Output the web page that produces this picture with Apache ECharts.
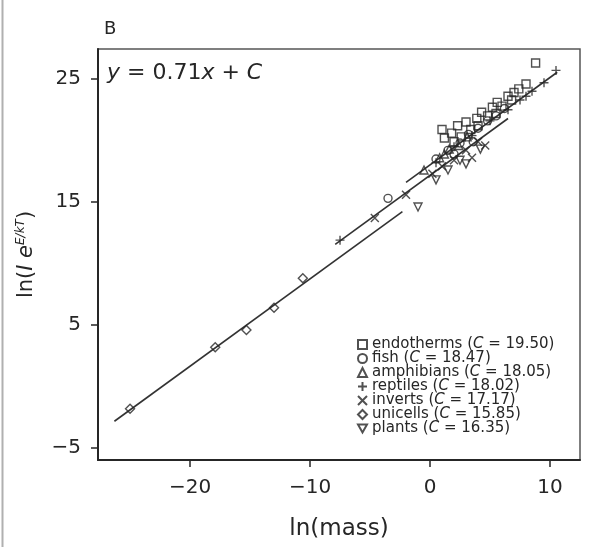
<!DOCTYPE html>
<html>
<head>
<meta charset="utf-8">
<script src="https://cdn.jsdelivr.net/npm/echarts@6/dist/echarts.min.js"></script>
<style>html,body{margin:0;padding:0;background:#fff}#c{width:597px;height:547px}</style>
</head>
<body>
<div id="c"></div>
<script>
// ---- data (ln(mass), ln(I e^(E/kT))) ----
var groupNames = ['endotherms', 'fish', 'amphibians', 'reptiles', 'inverts', 'unicells', 'plants'];
var groupC = ['19.50', '18.47', '18.05', '18.02', '17.17', '15.85', '16.35'];

var endotherms = [[1.0,20.9],[1.2,20.2],[1.8,20.6],[2.3,21.2],[2.6,20.3],[3.0,21.5],[3.4,20.9],[3.9,21.8],[4.3,22.3],[4.8,22.0],[5.2,22.7],[5.6,23.1],[6.0,22.8],[6.5,23.6],[7.0,23.9],[7.4,24.2],[8.0,24.6],[8.8,26.3],[2.0,19.9],[4.0,21.2],[5.5,22.2],[6.8,23.3]];
var fish = [[-3.5,15.3],[0.5,18.5],[1.5,19.2],[2.5,19.8],[3.2,20.5],[4.0,21.0],[4.8,21.6],[5.5,22.0],[2.0,18.9],[3.6,19.9],[6.2,22.6]];
var amphibians = [[-0.5,17.6],[0.8,18.6],[1.6,19.3],[2.4,19.6],[3.1,20.3],[1.2,18.9]];
var reptiles = [[-7.5,11.9],[0.5,18.2],[2.0,19.5],[3.5,20.4],[5.0,21.6],[6.5,22.5],[7.5,23.3],[8.5,24.0],[9.5,24.7],[10.5,25.7],[8.0,23.6]];
var inverts = [[-4.6,13.7],[-2.0,15.6],[0.2,17.3],[1.0,17.9],[2.0,18.4],[3.0,19.2],[4.0,19.9],[4.6,19.6],[3.5,18.6]];
var unicells = [[-25.0,-1.8],[-17.9,3.2],[-15.3,4.6],[-13.0,6.4],[-10.6,8.8]];
var plants = [[-1.0,14.6],[0.5,16.8],[1.5,17.6],[2.5,18.4],[3.0,18.1],[4.2,19.3]];

// fitted lines y = 0.71x + C (end points)
var lineUnicells = [[-26.3,-2.82],[-2.3,14.22]];
var lineInverts = [[-7.9,11.56],[6.5,21.79]];
var lineReptiles = [[-2.0,16.60],[10.6,25.55]];

var xTicks = [-20, -10, 0, 10];
var yTicks = [-5, 5, 15, 25];

// ---- chart ----
var FONT = '"DejaVu Sans", "Liberation Sans", Arial, sans-serif';
var INK = '#262626';
var groupData = [endotherms, fish, amphibians, reptiles, inverts, unicells, plants];
var groupSymbols = [
  'rect', 'circle', 'triangle',
  'path://M5,0L5,10M0,5L10,5',
  'path://M0,0L10,10M10,0L0,10',
  'diamond',
  'path://M0,0L10,0L5,9Z'
];
var groupSizes = [8, 8, 8, 9, 8, 9, 8];

var series = groupNames.map(function (n, k) {
  return {
    name: n, type: 'scatter', data: groupData[k],
    symbol: groupSymbols[k], symbolSize: groupSizes[k],
    itemStyle: { color: 'rgba(255,255,255,0)', borderColor: INK, borderWidth: 1.4 },
    z: 3
  };
});
[lineUnicells, lineInverts, lineReptiles].forEach(function (d) {
  series.push({
    type: 'line', data: d, showSymbol: false, symbol: 'none',
    lineStyle: { color: '#333', width: 1.6 }, silent: true, z: 2
  });
});

var fmtMinus = function (v) { return String(v).replace('-', '\u2212'); };

var chart = echarts.init(document.getElementById('c'), null, { renderer: 'canvas' });
chart.setOption({
  animation: false,
  backgroundColor: '#fff',
  grid: { left: 98, right: 17, top: 49, bottom: 87, show: true, borderColor: '#555', borderWidth: 1.5 },
  xAxis: {
    type: 'value', min: -27.67, max: 12.5,
    axisLine: { show: true, onZero: false, lineStyle: { color: INK, width: 2 } },
    axisTick: { show: true, length: 7, customValues: xTicks, lineStyle: { color: INK, width: 1.5 } },
    axisLabel: { customValues: xTicks, formatter: fmtMinus, fontSize: 20, color: INK, fontFamily: FONT, margin: 18 },
    splitLine: { show: false },
    name: 'ln(mass)', nameLocation: 'middle', nameGap: 58,
    nameTextStyle: { fontSize: 23, color: INK, fontFamily: FONT }
  },
  yAxis: {
    type: 'value', min: -5.97, max: 27.44,
    axisLine: { show: true, onZero: false, lineStyle: { color: INK, width: 2 } },
    axisTick: { show: true, length: 7, customValues: yTicks, lineStyle: { color: INK, width: 1.5 } },
    axisLabel: { customValues: yTicks, formatter: fmtMinus, fontSize: 20, color: INK, fontFamily: FONT, margin: 17 },
    splitLine: { show: false },
    name: '{n|ln(}{i|I}{n| }{i|e}{s|E/kT}{n|)}', nameLocation: 'middle', nameGap: 59, nameRotate: 90,
    nameTextStyle: {
      color: INK, fontFamily: FONT, fontSize: 21,
      rich: {
        n: { fontSize: 21, color: INK, fontFamily: FONT, lineHeight: 24 },
        i: { fontSize: 21, color: INK, fontFamily: FONT, fontStyle: 'italic', lineHeight: 24 },
        s: { fontSize: 12, color: INK, fontFamily: FONT, fontStyle: 'italic', verticalAlign: 'top', lineHeight: 12 }
      }
    }
  },
  legend: {
    orient: 'vertical', left: 352, top: 332,
    itemWidth: 9, itemHeight: 9, itemGap: -1,
    data: groupNames,
    formatter: function (name) {
      var c = groupC[groupNames.indexOf(name)];
      return '{t|' + name + ' (}{i|C}{t| = ' + c + ')}';
    },
    textStyle: {
      fontFamily: FONT, color: INK, fontSize: 15,
      rich: {
        t: { fontSize: 15, color: INK, fontFamily: FONT },
        i: { fontSize: 15, color: INK, fontFamily: FONT, fontStyle: 'italic' }
      }
    }
  },
  graphic: [
    { type: 'text', left: 104, top: 20, style: { text: 'B', font: '18px ' + FONT, fill: INK } },
    { type: 'text', left: 107, top: 62, style: {
        text: '{i|y}{n| = 0.71}{i|x}{n| + }{i|C}',
        rich: {
          n: { font: '22px ' + FONT, fill: INK },
          i: { font: 'italic 22px ' + FONT, fill: INK }
        }
    } },
    { type: 'line', shape: { x1: 2.5, y1: 0, x2: 2.5, y2: 547 }, style: { stroke: '#b0b0b0', lineWidth: 2 } }
  ],
  series: series
});
</script>
</body>
</html>
